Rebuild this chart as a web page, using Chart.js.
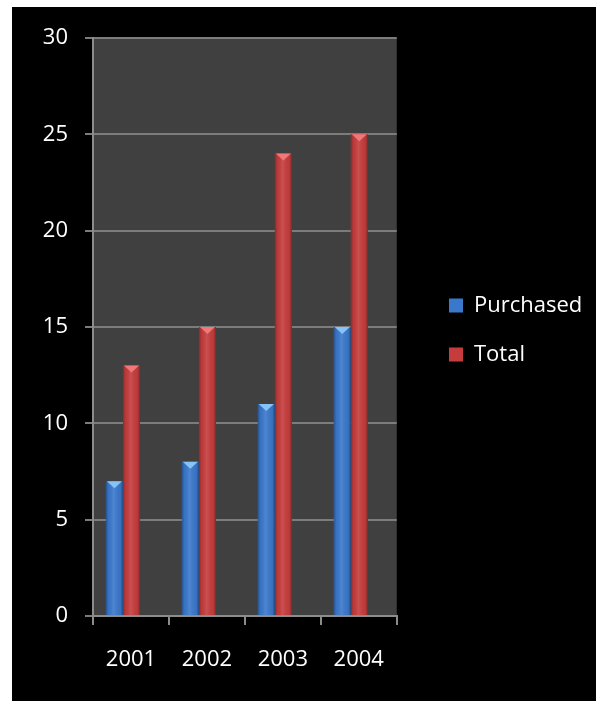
<!DOCTYPE html>
<html>
<head>
<meta charset="utf-8">
<script src="https://cdn.jsdelivr.net/npm/chart.js@4.4.1/dist/chart.umd.min.js"></script>
<style>
  body { margin: 0; background: #fff; }
  #wrap { position: absolute; left: 12px; top: 7px; width: 584px; height: 694px; background: #000; }
</style>
</head>
<body>
<div id="wrap"><canvas id="myCanvas"></canvas></div>
<script>
// datos de la grafica
const years = ['2001', '2002', '2003', '2004'];
const purchased = [7, 8, 11, 15];
const total = [13, 15, 24, 25];
const yTicks = [0, 5, 10, 15, 20, 25, 30];

const blue = '#3a78cc';
const red = '#c63c3c';

// fondo gris del area de la grafica
const plotBg = {
  id: 'plotBg',
  beforeDraw(chart) {
    const a = chart.chartArea, c = chart.ctx;
    c.save();
    c.fillStyle = '#404040';
    c.fillRect(a.left, a.top, a.right - a.left, a.bottom - a.top);
    c.restore();
  }
};

// la leyenda queda separada del area de la grafica
const legendGap = {
  id: 'legendGap',
  afterLayout(chart) {
    const lg = chart.legend;
    lg.left = 410;
    lg.right = chart.width;
    lg.width = lg.right - lg.left;
    lg.top += 3;
    lg.bottom += 3;
  }
};

// barras un poco corridas a la izquierda y con brillo tipo cilindro
const barLook = {
  id: 'barLook',
  beforeDatasetsDraw(chart) {
    chart.ctx.save();
    chart.ctx.translate(-8, 0);
  },
  afterDatasetsDraw(chart) {
    const c = chart.ctx;
    const caps = ['#86c3f7', '#f07878'];
    chart.data.datasets.forEach((ds, i) => {
      chart.getDatasetMeta(i).data.forEach(bar => {
        const l = bar.x - bar.width / 2, r = bar.x + bar.width / 2;
        const g = c.createLinearGradient(l, 0, r, 0);
        g.addColorStop(0, 'rgba(0,0,0,0.30)');
        g.addColorStop(0.15, 'rgba(0,0,0,0.05)');
        g.addColorStop(0.45, 'rgba(255,255,255,0.10)');
        g.addColorStop(0.85, 'rgba(0,0,0,0.05)');
        g.addColorStop(1, 'rgba(0,0,0,0.35)');
        c.fillStyle = g;
        c.fillRect(l, bar.y, bar.width, bar.base - bar.y);
        // punta de piramide arriba
        c.fillStyle = caps[i];
        c.beginPath();
        c.moveTo(l + 1, bar.y);
        c.lineTo(r - 1, bar.y);
        c.lineTo(bar.x, bar.y + 7);
        c.closePath();
        c.fill();
      });
    });
    c.restore();
  }
};

Chart.defaults.font.family = "'Open Sans', sans-serif";
Chart.defaults.font.size = 22;
Chart.defaults.color = '#ffffff';

const ctx = document.getElementById('myCanvas').getContext('2d');
const myChart = new Chart(ctx, {
  type: 'bar',
  data: {
    labels: years,
    datasets: [
      { label: 'Purchased', data: purchased, backgroundColor: blue, borderWidth: 0 },
      { label: 'Total', data: total, backgroundColor: red, borderWidth: 0 }
    ]
  },
  options: {
    responsive: true,
    maintainAspectRatio: false,
    animation: false,
    datasets: { bar: { categoryPercentage: 0.45, barPercentage: 1 } },
    layout: { padding: { top: 31, right: 71, left: 0, bottom: 0 } },
    plugins: {
      tooltip: { enabled: false },
      legend: {
        position: 'right',
        fullSize: false,
        labels: {
          boxWidth: 14,
          boxHeight: 14,
          padding: 27,
          color: '#ffffff',
          font: { size: 22 }
        }
      }
    },
    scales: {
      x: {
        grid: { offset: true, drawOnChartArea: false, drawTicks: true, tickLength: 9, color: '#8c8c8c', lineWidth: 2 },
        border: { color: '#8c8c8c', width: 2 },
        ticks: { padding: 22, color: '#ffffff' },
        afterFit(s) { s.height = 85; }
      },
      y: {
        min: 0,
        max: 30,
        afterBuildTicks(s) { s.ticks = yTicks.map(v => ({ value: v })); },
        grid: { color: '#7c7c7c', lineWidth: 2, tickLength: 8 },
        border: { color: '#8c8c8c', width: 2 },
        ticks: { padding: 17, color: '#ffffff' },
        afterFit(s) { s.width = 81; }
      }
    }
  },
  plugins: [plotBg, legendGap, barLook]
});
</script>
</body>
</html>
